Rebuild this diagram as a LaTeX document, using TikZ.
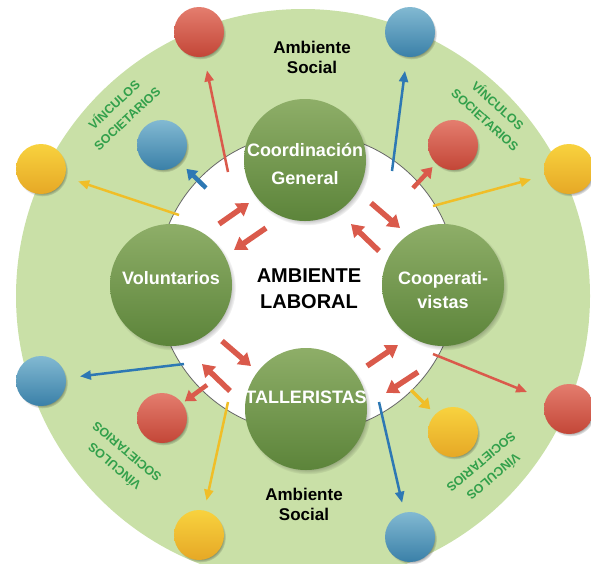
\documentclass[tikz,border=0pt]{standalone}
\usepackage{fontspec}
\setmainfont{Liberation Sans}
\usepackage{xcolor}
\usetikzlibrary{arrows.meta,shadows}

\definecolor{ringgreen}{RGB}{201,224,167}
\definecolor{hubtop}{RGB}{142,174,104}
\definecolor{hubbot}{RGB}{92,132,58}
\definecolor{redtop}{RGB}{228,125,110}
\definecolor{redbot}{RGB}{195,70,55}
\definecolor{bluetop}{RGB}{130,185,210}
\definecolor{bluebot}{RGB}{58,128,168}
\definecolor{yeltop}{RGB}{248,210,62}
\definecolor{yelbot}{RGB}{230,168,38}
\definecolor{arrred}{RGB}{218,90,75}
\definecolor{arrblue}{RGB}{45,120,180}
\definecolor{arryel}{RGB}{240,190,40}
\definecolor{tiegreen}{RGB}{50,160,75}

\tikzset{
  ball/.style={circle, minimum size=50pt, inner sep=0pt,
    circular drop shadow={shadow xshift=1.5pt, shadow yshift=-2pt, shadow scale=1.02, fill=black, opacity=.35}},
  redball/.style={ball, top color=redtop, bottom color=redbot},
  blueball/.style={ball, top color=bluetop, bottom color=bluebot},
  yelball/.style={ball, top color=yeltop, bottom color=yelbot},
  hub/.style={circle, minimum size=122pt, inner sep=0pt, top color=hubtop, bottom color=hubbot,
    circular drop shadow={shadow xshift=2pt, shadow yshift=-2.5pt, shadow scale=1.03, fill=black, opacity=.4}},
  hubtxt/.style={text=white, font=\bfseries\fontsize{18}{28}\selectfont, align=center},
  longarrow/.style={line width=2.5pt, -{Triangle[length=11pt,width=9pt]}, shorten >=14pt},
  shortarrow/.style={line width=4.5pt, -{Triangle[length=10pt,width=13pt]}},
  pairarrow/.style={draw=arrred, line width=5.5pt, -{Triangle[length=12pt,width=15pt]}},
  tie/.style={text=tiegreen, font=\bfseries\fontsize{12.5}{19}\selectfont, align=center},
  ambtxt/.style={font=\bfseries\fontsize{17}{20}\selectfont, align=center}
}

\begin{document}
\begin{tikzpicture}[x=1pt,y=-1pt]
    \useasboundingbox (0,0) rectangle (591,563);
    \clip (0,0) rectangle (591,563);

    % rings
    \fill[ringgreen] (303,296) circle[radius=287pt];
    \filldraw[fill=white, draw=black!60, line width=0.8pt] (307,283) circle[radius=150pt];

    % outer balls
    \node[redball] (o1) at (199,32) {};
    \node[blueball] (o2) at (410,32) {};
    \node[yelball] (o3) at (569,169) {};
    \node[redball] (o4) at (569,409) {};
    \node[blueball] (o5) at (410,537) {};
    \node[yelball] (o6) at (199,535) {};
    \node[blueball] (o7) at (41,381) {};
    \node[yelball] (o8) at (41,169) {};

    % inner balls
    \node[blueball] (i1) at (162,145) {};
    \node[redball] (i2) at (453,145) {};
    \node[yelball] (i3) at (453,432) {};
    \node[redball] (i4) at (162,418) {};

    % arrow tails
    \coordinate (t1) at (228,172);
    \coordinate (t2) at (392,171);
    \coordinate (t3) at (433,206);
    \coordinate (t4) at (433,354);
    \coordinate (t5) at (379,402);
    \coordinate (t6) at (228,402);
    \coordinate (t7) at (184,364);
    \coordinate (t8) at (179,215);
    \coordinate (s1) at (206,188);
    \coordinate (s2) at (413,188);
    \coordinate (s3) at (411,390);
    \coordinate (s4) at (207,385);

    \draw[longarrow, arrred] (t1) -- (o1);
    \draw[longarrow, arrblue] (t2) -- (o2);
    \draw[longarrow, arryel] (t3) -- (o3);
    \draw[longarrow, arrred, shorten >=20pt] (t4) -- (o4);
    \draw[longarrow, arrblue, shorten >=10pt] (t5) -- (o5);
    \draw[longarrow, arryel, shorten >=10pt] (t6) -- (o6);
    \draw[longarrow, arrblue] (t7) -- (o7);
    \draw[longarrow, arryel] (t8) -- (o8);

    \draw[shortarrow, arrblue, shorten >=9pt] (s1) -- (i1);
    \draw[shortarrow, arrred, shorten >=5pt] (s2) -- (i2);
    \draw[shortarrow, arryel, line width=3.5pt, shorten >=7pt] (s3) -- (i3);
    \draw[shortarrow, arrred, shorten >=3pt] (s4) -- (i4);

    % hubs
    \node[hub, label={[hubtxt, yshift=-4pt]center:{Coordinación\\General}}] (coord) at (305,160) {};
    \node[hub, label={[hubtxt, yshift=7pt]center:Voluntarios}] (vol) at (171,285) {};
    \node[hub, label={[hubtxt, font=\bfseries\fontsize{18}{24}\selectfont, yshift=-5pt]center:{Cooperati-\\vistas}}] (coop) at (443,285) {};
    \node[hub, label={[hubtxt, yshift=12pt]center:TALLERISTAS}] (tall) at (306,409) {};

    % arrows between hubs
    \coordinate (vc1) at (219,224);  \coordinate (vc2) at (249,203);
    \coordinate (cv1) at (266,228);  \coordinate (cv2) at (234,250);
    \coordinate (cq1) at (371,203);  \coordinate (cq2) at (400,228);
    \coordinate (qc1) at (379,251);  \coordinate (qc2) at (351,224);
    \coordinate (vt1) at (222,341);  \coordinate (vt2) at (251,366);
    \coordinate (tv1) at (230,391);  \coordinate (tv2) at (202,364);
    \coordinate (tq1) at (367,366);  \coordinate (tq2) at (398,345);
    \coordinate (qt1) at (418,372);  \coordinate (qt2) at (386,393);
    \foreach \a in {vc,cv,cq,qc,vt,tv,tq,qt} {
        \draw[pairarrow] (\a1) -- (\a2);
    }

    % texts
    \node[font=\bfseries\fontsize{20}{26}\selectfont, align=center] (lab) at (309,289) {AMBIENTE\\LABORAL};
    \node[ambtxt] (soc1) at (312,57) {Ambiente\\Social};
    \node[ambtxt] (soc2) at (304,504) {Ambiente\\Social};

    \node[tie, rotate=43] (v1) at (120,111) {VÍNCULOS\\SOCIETARIOS};
    \node[tie, rotate=-42] (v2) at (492,112) {VÍNCULOS\\SOCIETARIOS};
    \node[tie, rotate=-140] (v3) at (488,470) {VÍNCULOS\\SOCIETARIOS};
    \node[tie, rotate=140] (v4) at (120,460) {VÍNCULOS\\SOCIETARIOS};
\end{tikzpicture}
\end{document}
